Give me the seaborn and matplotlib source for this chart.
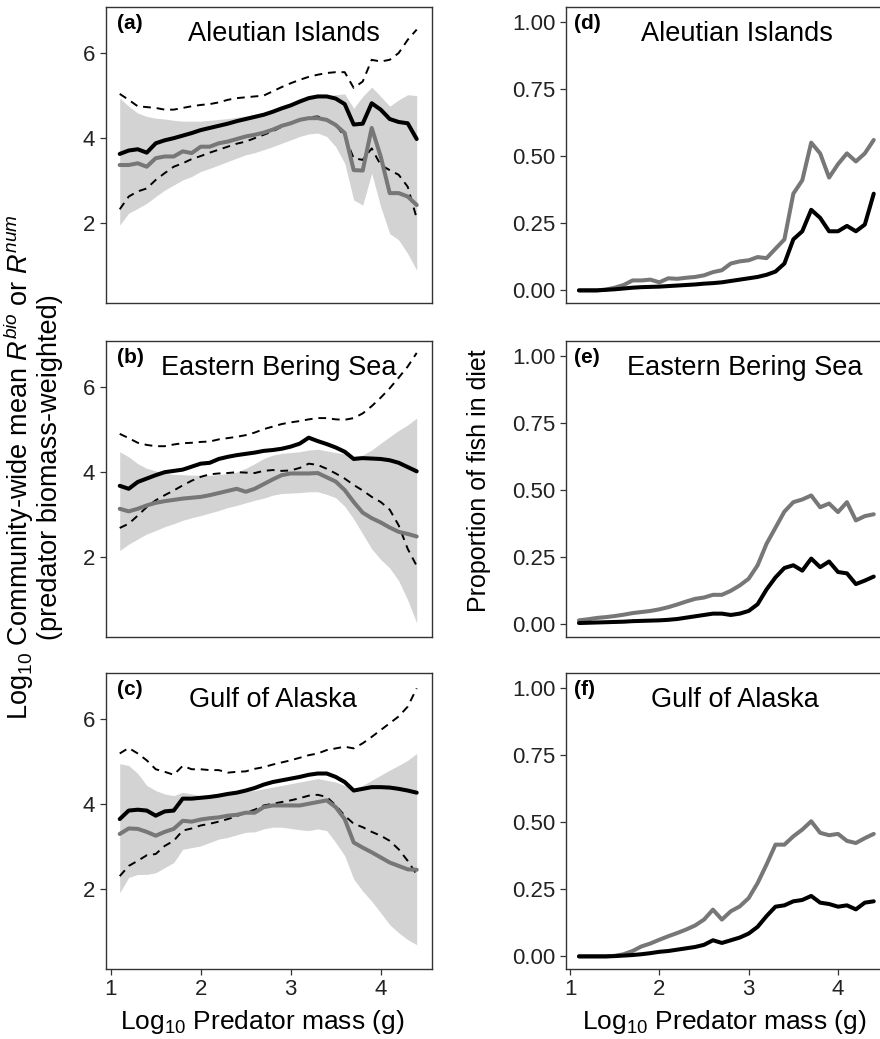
import numpy as np
import seaborn as sns
import matplotlib.pyplot as plt

# predator mass grid (log10 g)
mass = [1.1, 1.2, 1.3, 1.4, 1.5, 1.6, 1.7, 1.8, 1.9, 2.0,
        2.1, 2.2, 2.3, 2.4, 2.5, 2.6, 2.7, 2.8, 2.9, 3.0,
        3.1, 3.2, 3.3, 3.4, 3.5, 3.6, 3.7, 3.8, 3.9, 4.0,
        4.1, 4.2, 4.3, 4.4]

# (a) Aleutian Islands
a_black = [3.63, 3.71, 3.74, 3.66, 3.88, 3.95, 4.00, 4.06, 4.12, 4.19,
           4.24, 4.29, 4.34, 4.40, 4.45, 4.50, 4.55, 4.62, 4.70, 4.77,
           4.86, 4.94, 4.98, 4.98, 4.93, 4.80, 4.32, 4.34, 4.82, 4.67,
           4.45, 4.38, 4.35, 3.98]
a_grey = [3.37, 3.37, 3.41, 3.33, 3.53, 3.57, 3.57, 3.69, 3.65, 3.80,
          3.80, 3.88, 3.92, 3.98, 4.04, 4.08, 4.13, 4.20, 4.29, 4.35,
          4.43, 4.47, 4.47, 4.43, 4.31, 4.12, 3.25, 3.24, 4.24, 3.57,
          2.71, 2.71, 2.63, 2.43]
a_up = [5.04, 4.90, 4.75, 4.73, 4.71, 4.67, 4.67, 4.71, 4.75, 4.78,
        4.80, 4.84, 4.90, 4.94, 4.96, 4.98, 5.00, 5.10, 5.20, 5.29,
        5.37, 5.44, 5.49, 5.53, 5.55, 5.55, 5.18, 5.33, 5.84, 5.80,
        5.84, 6.00, 6.31, 6.55]
a_lo = [2.33, 2.63, 2.75, 2.82, 3.02, 3.18, 3.33, 3.41, 3.51, 3.58,
        3.66, 3.73, 3.80, 3.87, 3.92, 4.00, 4.08, 4.16, 4.27, 4.35,
        4.43, 4.49, 4.51, 4.43, 4.31, 4.04, 3.53, 3.49, 3.76, 3.37,
        3.25, 3.14, 2.86, 2.12]
a_band_hi = [4.94, 4.75, 4.59, 4.51, 4.47, 4.45, 4.42, 4.40, 4.40, 4.40,
             4.42, 4.44, 4.46, 4.49, 4.52, 4.56, 4.60, 4.65, 4.72, 4.80,
             4.88, 4.95, 5.00, 5.00, 5.02, 5.04, 4.70, 4.98, 5.20, 4.98,
             4.75, 4.90, 5.02, 5.00]
a_band_lo = [1.96, 2.24, 2.35, 2.47, 2.63, 2.78, 2.90, 3.02, 3.10, 3.22,
             3.29, 3.37, 3.45, 3.53, 3.61, 3.66, 3.73, 3.80, 3.88, 3.96,
             4.04, 4.10, 4.12, 4.04, 3.80, 3.41, 2.55, 2.43, 3.18, 2.39,
             1.76, 1.61, 1.29, 0.90]

# (b) Eastern Bering Sea
b_black = [3.68, 3.61, 3.77, 3.85, 3.93, 4.00, 4.03, 4.06, 4.13, 4.20,
           4.22, 4.31, 4.36, 4.40, 4.43, 4.46, 4.50, 4.52, 4.55, 4.60,
           4.67, 4.81, 4.73, 4.66, 4.58, 4.48, 4.31, 4.33, 4.32, 4.31,
           4.28, 4.22, 4.12, 4.02]
b_grey = [3.14, 3.08, 3.14, 3.22, 3.28, 3.32, 3.35, 3.38, 3.40, 3.42,
          3.46, 3.51, 3.56, 3.61, 3.54, 3.61, 3.72, 3.83, 3.93, 3.97,
          3.97, 3.97, 3.98, 3.88, 3.78, 3.58, 3.30, 3.05, 2.92, 2.82,
          2.70, 2.60, 2.55, 2.49]
b_up = [4.90, 4.80, 4.69, 4.64, 4.61, 4.61, 4.65, 4.68, 4.69, 4.71,
        4.72, 4.77, 4.80, 4.83, 4.87, 4.93, 5.01, 5.07, 5.13, 5.17,
        5.20, 5.24, 5.27, 5.27, 5.24, 5.23, 5.27, 5.38, 5.55, 5.75,
        5.97, 6.22, 6.48, 6.80]
b_lo = [2.69, 2.79, 2.98, 3.18, 3.34, 3.46, 3.57, 3.69, 3.80, 3.89,
        3.95, 3.97, 3.98, 4.00, 3.99, 3.98, 4.03, 4.05, 4.03, 4.04,
        4.10, 4.20, 4.17, 4.08, 3.97, 3.85, 3.70, 3.57, 3.42, 3.30,
        3.12, 2.75, 2.20, 1.80]
b_band_hi = [4.48, 4.36, 4.20, 4.09, 4.03, 3.97, 3.95, 3.94, 3.93, 3.93,
             3.93, 3.94, 3.97, 4.00, 4.09, 4.20, 4.32, 4.40, 4.44, 4.46,
             4.48, 4.52, 4.54, 4.50, 4.46, 4.43, 4.38, 4.40, 4.52, 4.68,
             4.83, 4.98, 5.11, 5.27]
b_band_lo = [2.16, 2.31, 2.43, 2.55, 2.63, 2.72, 2.79, 2.87, 2.93, 2.98,
             3.04, 3.10, 3.17, 3.22, 3.28, 3.34, 3.39, 3.46, 3.50, 3.51,
             3.52, 3.54, 3.54, 3.48, 3.40, 3.20, 2.90, 2.55, 2.20, 1.95,
             1.75, 1.45, 1.00, 0.46]

# (c) Gulf of Alaska
c_black = [3.65, 3.85, 3.87, 3.85, 3.73, 3.83, 3.85, 4.13, 4.13, 4.15,
           4.17, 4.20, 4.24, 4.27, 4.32, 4.38, 4.46, 4.52, 4.56, 4.60,
           4.64, 4.69, 4.72, 4.72, 4.64, 4.52, 4.32, 4.36, 4.40, 4.40,
           4.39, 4.36, 4.32, 4.27]
c_grey = [3.30, 3.43, 3.42, 3.35, 3.26, 3.35, 3.42, 3.61, 3.59, 3.64,
          3.67, 3.69, 3.73, 3.75, 3.80, 3.80, 3.93, 3.97, 3.97, 3.97,
          3.97, 4.01, 4.05, 4.09, 3.93, 3.65, 3.10, 2.98, 2.87, 2.75,
          2.63, 2.55, 2.47, 2.46]
c_up = [5.19, 5.32, 5.19, 5.03, 4.82, 4.76, 4.69, 4.90, 4.82, 4.82,
        4.80, 4.80, 4.74, 4.76, 4.77, 4.83, 4.87, 4.93, 4.98, 5.03,
        5.09, 5.15, 5.19, 5.27, 5.31, 5.35, 5.31, 5.43, 5.58, 5.74,
        5.90, 6.06, 6.29, 6.72]
c_lo = [2.31, 2.55, 2.67, 2.80, 2.83, 3.02, 3.14, 3.38, 3.43, 3.50,
        3.54, 3.59, 3.65, 3.72, 3.80, 3.87, 3.97, 4.01, 4.05, 4.09,
        4.14, 4.20, 4.22, 4.17, 3.97, 3.73, 3.54, 3.46, 3.35, 3.26,
        3.14, 2.94, 2.67, 2.35]
c_band_hi = [4.95, 4.91, 4.72, 4.44, 4.32, 4.24, 4.20, 4.28, 4.24, 4.20,
             4.20, 4.22, 4.24, 4.27, 4.30, 4.32, 4.36, 4.40, 4.44, 4.48,
             4.52, 4.56, 4.60, 4.56, 4.52, 4.44, 4.36, 4.44, 4.56, 4.68,
             4.80, 4.91, 5.03, 5.19]
c_band_lo = [1.92, 2.28, 2.35, 2.35, 2.39, 2.51, 2.63, 2.94, 2.98, 3.02,
             3.10, 3.18, 3.22, 3.28, 3.34, 3.35, 3.42, 3.46, 3.46, 3.43,
             3.40, 3.38, 3.42, 3.38, 3.10, 2.79, 2.24, 1.96, 1.72, 1.45,
             1.17, 0.98, 0.82, 0.70]

# proportion of fish in diet (d-f)
d_grey = [0.0, 0.0, 0.0, 0.003, 0.01, 0.02, 0.037, 0.037, 0.04, 0.03,
          0.045, 0.043, 0.047, 0.05, 0.056, 0.068, 0.075, 0.10, 0.108, 0.112,
          0.124, 0.12, 0.155, 0.19, 0.36, 0.41, 0.55, 0.51, 0.42, 0.47,
          0.51, 0.48, 0.51, 0.56]
d_black = [0.0, 0.0, 0.0, 0.002, 0.004, 0.007, 0.01, 0.012, 0.013, 0.014,
           0.016, 0.018, 0.02, 0.022, 0.025, 0.027, 0.03, 0.035, 0.04, 0.045,
           0.05, 0.058, 0.07, 0.10, 0.19, 0.22, 0.30, 0.27, 0.22, 0.22,
           0.24, 0.22, 0.245, 0.36]
e_grey = [0.015, 0.019, 0.024, 0.027, 0.031, 0.036, 0.042, 0.046, 0.05, 0.056,
          0.064, 0.074, 0.085, 0.095, 0.10, 0.11, 0.11, 0.125, 0.145, 0.17,
          0.22, 0.30, 0.36, 0.42, 0.455, 0.465, 0.48, 0.436, 0.45, 0.418,
          0.455, 0.387, 0.403, 0.41]
e_black = [0.005, 0.006, 0.007, 0.008, 0.009, 0.01, 0.012, 0.013, 0.014, 0.015,
           0.017, 0.02, 0.025, 0.03, 0.035, 0.04, 0.04, 0.035, 0.04, 0.05,
           0.075, 0.13, 0.175, 0.21, 0.22, 0.20, 0.245, 0.213, 0.234, 0.195,
           0.19, 0.15, 0.163, 0.178]
f_grey = [0.0, 0.0, 0.0, 0.0, 0.002, 0.008, 0.02, 0.037, 0.048, 0.062,
          0.075, 0.087, 0.10, 0.115, 0.137, 0.174, 0.137, 0.168, 0.186, 0.217,
          0.273, 0.342, 0.416, 0.416, 0.447, 0.472, 0.503, 0.46, 0.451, 0.456,
          0.43, 0.422, 0.44, 0.456]
f_black = [0.0, 0.0, 0.0, 0.0, 0.001, 0.003, 0.005, 0.008, 0.012, 0.017,
           0.02, 0.025, 0.03, 0.035, 0.043, 0.06, 0.05, 0.06, 0.07, 0.085,
           0.11, 0.15, 0.185, 0.19, 0.205, 0.21, 0.225, 0.20, 0.195, 0.185,
           0.19, 0.175, 0.20, 0.205]

regions = ["Aleutian Islands", "Eastern Bering Sea", "Gulf of Alaska"]

sns.set_style("ticks")
plt.rcParams['font.family'] = ['Liberation Sans', 'DejaVu Sans']
plt.rcParams['text.color'] = 'black'
plt.rcParams['mathtext.fontset'] = 'custom'
plt.rcParams['mathtext.rm'] = 'Liberation Sans'
plt.rcParams['mathtext.it'] = 'Liberation Sans:italic'

GREY = '#777777'
BAND = '#d3d3d3'
FRAME = '#333333'


def style_axes(ax, bottom_row):
    for s in ax.spines.values():
        s.set_visible(True)
        s.set_color(FRAME)
        s.set_linewidth(1.0)
    ax.tick_params(direction='out', length=4, width=0.9, color=FRAME,
                   labelcolor='#222222', labelsize=16)
    ax.set_xticks([1, 2, 3, 4])
    if not bottom_row:
        ax.tick_params(axis='x', bottom=False, labelbottom=False)
    ax.set_xlabel('')
    ax.set_ylabel('')


def add_titles(ax, tag, name, tag_x, pos):
    ax.text(tag_x, 0.945, tag, transform=ax.transAxes, fontsize=15,
            fontweight='bold', ha='left', va='center')
    ax.text(pos, 0.91, name, transform=ax.transAxes, fontsize=19.5,
            ha='center', va='center')


def plot_r_panel(ax, black, grey, up, lo, band_hi, band_lo, tag, name, pos, bottom_row):
    ax.fill_between(mass, band_lo, band_hi, color=BAND, linewidth=0, zorder=1)
    for d in (up, lo):
        sns.lineplot(x=mass, y=d, ax=ax, color='black', linewidth=1.4,
                     linestyle=(0, (4, 3)), zorder=2)
    sns.lineplot(x=mass, y=grey, ax=ax, color=GREY, linewidth=2.9, zorder=3)
    sns.lineplot(x=mass, y=black, ax=ax, color='black', linewidth=2.9, zorder=4)
    ax.set_xlim(0.942, 4.57)
    ax.set_ylim(0.13, 7.08)
    ax.set_yticks([2, 4, 6])
    style_axes(ax, bottom_row)
    add_titles(ax, tag, name, 0.035, pos)


def plot_fish_panel(ax, black, grey, tag, name, pos, bottom_row):
    sns.lineplot(x=mass, y=grey, ax=ax, color=GREY, linewidth=2.9, zorder=3)
    sns.lineplot(x=mass, y=black, ax=ax, color='black', linewidth=2.9, zorder=4)
    ax.set_xlim(0.955, 4.61)
    ax.set_ylim(-0.047, 1.055)
    ax.set_yticks([0, 0.25, 0.5, 0.75, 1.0])
    ax.set_yticklabels(['0.00', '0.25', '0.50', '0.75', '1.00'])
    style_axes(ax, bottom_row)
    add_titles(ax, tag, name, 0.025, pos)


W, H = 880, 1039
fig = plt.figure(figsize=(W / 100, H / 100), dpi=100)
tops = [7, 341, 673]
ax_h = 296
left_axes = [fig.add_axes([105.5 / W, 1 - (t + ax_h) / H, 326.5 / W, ax_h / H]) for t in tops]
right_axes = [fig.add_axes([566 / W, 1 - (t + ax_h) / H, 326.5 / W, ax_h / H]) for t in tops]

r_sets = [(a_black, a_grey, a_up, a_lo, a_band_hi, a_band_lo),
          (b_black, b_grey, b_up, b_lo, b_band_hi, b_band_lo),
          (c_black, c_grey, c_up, c_lo, c_band_hi, c_band_lo)]
fish_sets = [(d_black, d_grey), (e_black, e_grey), (f_black, f_grey)]
left_pos = [0.547, 0.531, 0.513]
right_pos = [0.525, 0.546, 0.518]

for i, ax in enumerate(left_axes):
    plot_r_panel(ax, *r_sets[i], '(' + 'abc'[i] + ')', regions[i], left_pos[i], i == 2)
for i, ax in enumerate(right_axes):
    plot_fish_panel(ax, *fish_sets[i], '(' + 'def'[i] + ')', regions[i], right_pos[i], i == 2)

# x axis titles under each column
xlab = r'Log$_{10}$ Predator mass (g)'
fig.text(262 / W, 1 - 1022 / H, xlab, fontsize=19, ha='center', va='center')
fig.text(724 / W, 1 - 1022 / H, xlab, fontsize=19, ha='center', va='center')

fig.text(19 / W, 1 - 467 / H, r'Log$_{10}$ Community-wide mean $R^{bio}$ or $R^{num}$',
         rotation=90, fontsize=19.5, ha='center', va='center')
fig.text(50 / W, 1 - 467 / H, '(predator biomass-weighted)',
         rotation=90, fontsize=19.5, ha='center', va='center')
fig.text(479 / W, 1 - 481 / H, 'Proportion of fish in diet',
         rotation=90, fontsize=18, ha='center', va='center')

fig.savefig('out.png', dpi=100)
